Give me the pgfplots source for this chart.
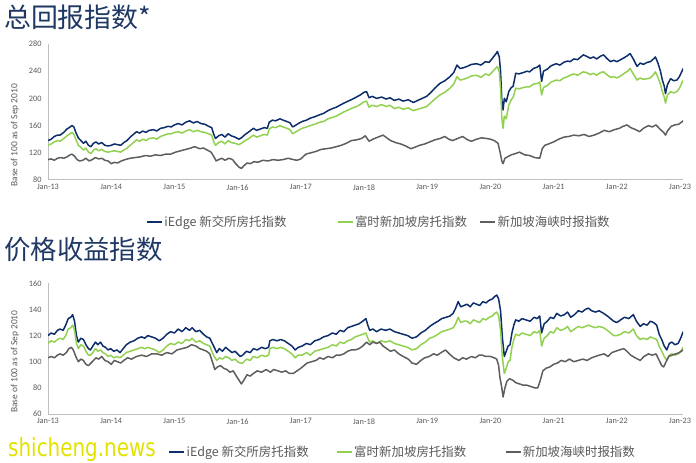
\documentclass[border=0pt]{standalone}
\usepackage{pgfplots}
\usepackage{pgfplotstable}
\pgfplotsset{compat=1.18}
\usepackage{fontspec}
\setmainfont{Carlito}
\newfontfamily\cjk{Noto Sans CJK SC}
\newfontfamily\wm{DejaVu Sans}
\definecolor{cblue}{HTML}{0E2D6B}
\definecolor{cgreen}{HTML}{92D050}
\definecolor{cgray}{HTML}{5E5E5E}
\definecolor{caxis}{HTML}{BFBFBF}
\definecolor{clabel}{HTML}{595959}
\definecolor{ctitle}{HTML}{1F3864}
\definecolor{cwm}{HTML}{E2E200}

\pgfplotstableread{
x y
2013.00 138
2013.05 140
2013.10 144
2013.15 146
2013.19 146
2013.25 150
2013.30 155
2013.35 158
2013.38 160
2013.41 158
2013.44 150
2013.48 142
2013.52 138
2013.56 134
2013.60 137
2013.64 131
2013.68 129
2013.72 134
2013.76 136
2013.80 133
2013.85 135
2013.90 131
2013.95 130
2014.00 131
2014.05 133
2014.10 132
2014.15 131
2014.20 135
2014.25 138
2014.30 143
2014.35 147
2014.40 151
2014.45 149
2014.50 152
2014.55 150
2014.60 153
2014.67 154
2014.72 152
2014.78 156
2014.84 157
2014.90 159
2014.95 158
2015.00 161
2015.06 163
2015.12 161
2015.18 165
2015.24 167
2015.30 164
2015.36 166
2015.42 163
2015.48 162
2015.54 159
2015.59 157
2015.62 148
2015.65 141
2015.70 145
2015.75 147
2015.80 143
2015.85 148
2015.90 145
2015.96 143
2016.02 140
2016.06 142
2016.12 147
2016.18 151
2016.25 156
2016.30 153
2016.36 155
2016.42 157
2016.47 156
2016.50 165
2016.55 168
2016.60 167
2016.67 170
2016.72 168
2016.78 166
2016.83 164
2016.87 158
2016.91 160
2016.96 163
2017.02 166
2017.09 168
2017.15 171
2017.22 173
2017.30 176
2017.36 178
2017.43 182
2017.50 185
2017.56 187
2017.62 190
2017.68 193
2017.75 196
2017.82 199
2017.88 202
2017.94 205
2018.00 209
2018.04 210
2018.08 201
2018.13 203
2018.20 200
2018.28 202
2018.35 199
2018.41 201
2018.48 197
2018.55 199
2018.62 196
2018.70 198
2018.78 194
2018.85 197
2018.92 200
2018.99 203
2019.05 208
2019.12 215
2019.20 222
2019.28 226
2019.36 232
2019.42 238
2019.47 249
2019.52 244
2019.57 245
2019.63 247
2019.70 250
2019.78 251
2019.85 249
2019.92 254
2019.98 253
2020.04 260
2020.09 266
2020.11 269
2020.14 261
2020.16 240
2020.18 198
2020.20 183
2020.22 200
2020.25 195
2020.29 210
2020.33 216
2020.36 218
2020.40 237
2020.45 236
2020.52 238
2020.58 240
2020.62 239
2020.68 244
2020.74 246
2020.78 249
2020.81 225
2020.84 240
2020.90 243
2020.96 248
2021.04 251
2021.10 249
2021.16 253
2021.22 255
2021.26 254
2021.32 258
2021.38 257
2021.43 261
2021.47 264
2021.52 262
2021.58 259
2021.63 261
2021.68 258
2021.74 262
2021.79 264
2021.84 259
2021.90 254
2021.95 256
2022.00 254
2022.06 257
2022.12 260
2022.17 263
2022.21 266
2022.26 258
2022.32 247
2022.37 252
2022.42 250
2022.48 253
2022.53 254
2022.58 258
2022.61 261
2022.65 252
2022.69 240
2022.72 227
2022.75 218
2022.77 207
2022.80 220
2022.85 229
2022.90 226
2022.95 227
2022.99 232
2023.02 238
2023.05 244
}\topblue

\pgfplotstableread{
x y
2013.00 131
2013.05 133
2013.10 136
2013.15 138
2013.19 137
2013.25 141
2013.30 145
2013.35 148
2013.38 150
2013.41 147
2013.44 140
2013.48 131
2013.52 128
2013.56 124
2013.60 127
2013.64 121
2013.68 119
2013.72 124
2013.76 126
2013.80 123
2013.85 125
2013.90 122
2013.95 121
2014.00 122
2014.05 123
2014.10 122
2014.15 121
2014.20 124
2014.25 127
2014.30 131
2014.35 135
2014.40 139
2014.45 137
2014.50 140
2014.55 138
2014.60 141
2014.67 142
2014.72 140
2014.78 144
2014.84 146
2014.90 148
2014.95 148
2015.00 150
2015.06 151
2015.12 149
2015.18 152
2015.24 154
2015.30 151
2015.36 153
2015.42 151
2015.48 150
2015.54 148
2015.59 146
2015.62 137
2015.65 131
2015.70 135
2015.75 137
2015.80 133
2015.85 138
2015.90 135
2015.96 134
2016.02 132
2016.06 134
2016.12 138
2016.18 141
2016.25 146
2016.30 143
2016.36 145
2016.42 147
2016.47 146
2016.50 155
2016.55 158
2016.60 157
2016.67 160
2016.72 158
2016.78 156
2016.83 154
2016.87 148
2016.91 150
2016.96 153
2017.02 156
2017.09 158
2017.15 160
2017.22 162
2017.30 165
2017.36 166
2017.43 170
2017.50 172
2017.56 174
2017.62 177
2017.68 180
2017.75 183
2017.82 186
2017.88 188
2017.94 191
2018.00 195
2018.04 196
2018.08 187
2018.13 190
2018.20 188
2018.28 191
2018.35 188
2018.41 190
2018.48 185
2018.55 187
2018.62 184
2018.70 186
2018.78 182
2018.85 184
2018.92 186
2018.99 188
2019.05 193
2019.12 199
2019.20 205
2019.28 209
2019.36 215
2019.42 221
2019.47 232
2019.52 227
2019.57 228
2019.63 230
2019.70 233
2019.78 234
2019.85 231
2019.92 236
2019.98 234
2020.04 240
2020.09 245
2020.11 247
2020.14 239
2020.16 215
2020.18 172
2020.20 156
2020.22 174
2020.25 170
2020.29 190
2020.33 198
2020.36 202
2020.40 215
2020.45 214
2020.52 216
2020.58 217
2020.62 217
2020.68 221
2020.74 222
2020.78 224
2020.81 205
2020.84 216
2020.90 219
2020.96 224
2021.04 227
2021.10 226
2021.16 230
2021.22 232
2021.26 234
2021.32 236
2021.38 234
2021.43 237
2021.47 239
2021.52 238
2021.58 235
2021.63 237
2021.68 234
2021.74 238
2021.79 239
2021.84 235
2021.90 231
2021.95 232
2022.00 230
2022.06 233
2022.12 237
2022.17 240
2022.21 244
2022.26 236
2022.32 227
2022.37 230
2022.42 228
2022.48 229
2022.53 230
2022.58 235
2022.61 239
2022.65 231
2022.69 221
2022.72 210
2022.75 202
2022.77 193
2022.80 205
2022.85 210
2022.90 208
2022.95 210
2022.99 215
2023.02 221
2023.05 227
}\topgreen

\pgfplotstableread{
x y
2013.00 110
2013.05 111
2013.10 109
2013.15 112
2013.20 113
2013.25 112
2013.30 114
2013.35 117
2013.38 118
2013.42 115
2013.46 110
2013.50 108
2013.55 109
2013.60 112
2013.65 108
2013.70 110
2013.75 113
2013.80 111
2013.85 112
2013.90 109
2013.95 108
2014.00 104
2014.05 106
2014.10 105
2014.16 108
2014.22 110
2014.30 112
2014.38 113
2014.46 114
2014.54 116
2014.62 115
2014.70 117
2014.78 116
2014.86 118
2014.94 118
2015.02 121
2015.10 123
2015.18 125
2015.26 127
2015.32 129
2015.40 126
2015.46 127
2015.52 124
2015.58 121
2015.62 115
2015.66 108
2015.70 110
2015.75 112
2015.80 109
2015.86 112
2015.92 110
2015.97 104
2016.02 99
2016.06 97
2016.10 101
2016.15 105
2016.20 104
2016.26 107
2016.32 106
2016.40 109
2016.48 108
2016.56 110
2016.64 109
2016.72 110
2016.80 112
2016.88 110
2016.94 109
2017.00 111
2017.08 118
2017.16 120
2017.24 122
2017.32 125
2017.40 126
2017.48 127
2017.56 129
2017.64 131
2017.72 134
2017.80 138
2017.88 139
2017.96 141
2018.02 145
2018.08 137
2018.14 140
2018.22 143
2018.30 146
2018.36 142
2018.42 138
2018.50 135
2018.58 133
2018.66 130
2018.74 126
2018.80 128
2018.88 131
2018.96 133
2019.04 136
2019.12 139
2019.20 141
2019.28 144
2019.34 140
2019.40 138
2019.48 141
2019.56 144
2019.64 139
2019.70 137
2019.78 140
2019.86 142
2019.94 141
2020.00 140
2020.06 138
2020.12 134
2020.15 122
2020.18 108
2020.20 104
2020.23 112
2020.27 114
2020.33 117
2020.40 119
2020.46 121
2020.54 117
2020.62 116
2020.70 113
2020.78 112
2020.82 126
2020.86 131
2020.92 133
2021.00 136
2021.08 140
2021.16 143
2021.24 144
2021.32 146
2021.40 145
2021.48 147
2021.56 144
2021.64 146
2021.72 149
2021.80 153
2021.88 151
2021.96 154
2022.04 156
2022.10 159
2022.16 161
2022.22 157
2022.30 154
2022.36 151
2022.42 156
2022.50 160
2022.56 158
2022.62 161
2022.68 155
2022.74 150
2022.77 146
2022.80 152
2022.86 159
2022.92 161
2022.98 162
2023.05 167
}\topgray

\pgfplotstableread{
x y
2013.00 120
2013.05 122
2013.10 121
2013.15 124
2013.19 125
2013.24 124
2013.28 128
2013.32 133
2013.36 134
2013.39 136
2013.42 131
2013.45 120
2013.48 115
2013.52 118
2013.56 117
2013.60 113
2013.64 110
2013.67 109
2013.71 112
2013.75 115
2013.79 113
2013.83 115
2013.87 112
2013.91 111
2013.95 109
2013.99 110
2014.04 108
2014.09 109
2014.14 107
2014.19 110
2014.24 113
2014.30 115
2014.36 116
2014.42 118
2014.48 119
2014.53 118
2014.58 120
2014.64 119
2014.70 118
2014.76 116
2014.82 118
2014.88 121
2014.94 123
2015.00 122
2015.06 125
2015.12 123
2015.18 126
2015.24 124
2015.28 126
2015.34 123
2015.40 124
2015.46 121
2015.51 119
2015.56 118
2015.60 114
2015.63 111
2015.67 107
2015.71 110
2015.76 108
2015.81 111
2015.86 109
2015.91 107
2015.96 108
2016.00 106
2016.04 104
2016.08 105
2016.14 108
2016.20 107
2016.25 110
2016.31 109
2016.38 111
2016.44 110
2016.49 111
2016.51 116
2016.56 117
2016.62 116
2016.68 117
2016.74 116
2016.80 114
2016.86 112
2016.91 109
2016.96 111
2017.02 112
2017.09 114
2017.15 113
2017.22 116
2017.29 117
2017.36 119
2017.43 120
2017.50 122
2017.56 121
2017.62 124
2017.68 123
2017.74 126
2017.80 127
2017.86 128
2017.92 129
2017.98 131
2018.03 133
2018.06 128
2018.09 124
2018.14 125
2018.20 123
2018.27 125
2018.34 124
2018.41 125
2018.48 123
2018.55 122
2018.62 121
2018.69 120
2018.76 118
2018.83 119
2018.90 122
2018.97 124
2019.04 127
2019.10 129
2019.17 131
2019.23 133
2019.30 134
2019.36 135
2019.41 137
2019.45 141
2019.49 146
2019.53 142
2019.58 143
2019.63 144
2019.68 142
2019.73 145
2019.78 144
2019.83 143
2019.88 146
2019.93 145
2019.98 147
2020.03 148
2020.07 150
2020.10 151
2020.13 148
2020.16 139
2020.19 118
2020.22 104
2020.25 108
2020.28 112
2020.31 113
2020.34 122
2020.37 128
2020.40 132
2020.45 131
2020.50 133
2020.56 132
2020.63 131
2020.69 134
2020.74 133
2020.78 135
2020.81 122
2020.85 129
2020.90 131
2020.95 134
2021.00 133
2021.05 137
2021.11 135
2021.17 136
2021.22 138
2021.27 134
2021.33 136
2021.39 139
2021.45 138
2021.50 140
2021.55 141
2021.60 139
2021.66 138
2021.72 139
2021.79 137
2021.85 135
2021.90 133
2021.95 131
2022.00 130
2022.06 132
2022.12 134
2022.19 133
2022.26 136
2022.31 131
2022.37 127
2022.42 129
2022.48 128
2022.53 131
2022.58 130
2022.63 128
2022.67 121
2022.71 117
2022.75 112
2022.79 109
2022.83 114
2022.87 115
2022.92 113
2022.97 114
2023.01 118
2023.05 123
}\botblue

\pgfplotstableread{
x y
2013.00 114
2013.05 116
2013.10 115
2013.15 117
2013.19 118
2013.24 117
2013.28 120
2013.32 125
2013.36 126
2013.39 128
2013.42 124
2013.45 114
2013.48 110
2013.52 113
2013.56 112
2013.60 108
2013.64 105
2013.67 105
2013.71 107
2013.75 110
2013.79 108
2013.83 109
2013.87 107
2013.91 106
2013.95 104
2013.99 105
2014.04 103
2014.09 104
2014.14 103
2014.19 105
2014.24 107
2014.30 108
2014.36 109
2014.42 110
2014.48 111
2014.53 110
2014.58 111
2014.64 110
2014.70 109
2014.76 107
2014.82 109
2014.88 112
2014.94 114
2015.00 113
2015.06 115
2015.12 114
2015.18 117
2015.24 116
2015.28 118
2015.34 115
2015.40 116
2015.46 114
2015.51 113
2015.56 112
2015.60 107
2015.63 104
2015.67 101
2015.71 103
2015.76 102
2015.81 104
2015.86 103
2015.91 101
2015.96 102
2016.00 100
2016.04 99
2016.08 99
2016.14 102
2016.20 101
2016.25 104
2016.31 103
2016.38 105
2016.44 104
2016.49 105
2016.51 110
2016.56 111
2016.62 110
2016.68 111
2016.74 110
2016.80 108
2016.86 106
2016.91 103
2016.96 105
2017.02 105
2017.09 107
2017.15 105
2017.22 108
2017.29 109
2017.36 110
2017.43 111
2017.50 113
2017.56 112
2017.62 115
2017.68 114
2017.74 116
2017.80 117
2017.86 119
2017.92 120
2017.98 121
2018.03 122
2018.06 118
2018.09 115
2018.14 116
2018.20 114
2018.27 116
2018.34 115
2018.41 116
2018.48 114
2018.55 113
2018.62 112
2018.69 111
2018.76 109
2018.83 110
2018.90 113
2018.97 115
2019.04 118
2019.10 119
2019.17 121
2019.23 123
2019.30 124
2019.36 125
2019.41 126
2019.45 129
2019.49 134
2019.53 130
2019.58 131
2019.63 131
2019.68 129
2019.73 132
2019.78 131
2019.83 130
2019.88 133
2019.93 132
2019.98 134
2020.03 135
2020.07 137
2020.10 138
2020.13 135
2020.16 124
2020.19 103
2020.22 91
2020.25 95
2020.28 100
2020.31 101
2020.34 111
2020.37 117
2020.40 121
2020.45 120
2020.50 122
2020.56 121
2020.63 120
2020.69 123
2020.74 122
2020.78 124
2020.81 112
2020.85 118
2020.90 120
2020.95 123
2021.00 122
2021.05 126
2021.11 124
2021.17 125
2021.22 127
2021.27 123
2021.33 125
2021.39 127
2021.45 126
2021.50 127
2021.55 128
2021.60 127
2021.66 126
2021.72 127
2021.79 126
2021.85 124
2021.90 122
2021.95 120
2022.00 120
2022.06 121
2022.12 123
2022.19 122
2022.26 125
2022.31 120
2022.37 117
2022.42 118
2022.48 117
2022.53 119
2022.58 118
2022.63 117
2022.67 112
2022.71 108
2022.75 104
2022.79 101
2022.83 105
2022.87 106
2022.92 105
2022.97 106
2023.01 108
2023.05 111
}\botgreen

\pgfplotstableread{
x y
2013.00 103
2013.05 104
2013.10 103
2013.15 105
2013.19 106
2013.24 105
2013.29 107
2013.33 110
2013.37 111
2013.40 109
2013.44 104
2013.48 100
2013.52 102
2013.56 101
2013.60 98
2013.64 97
2013.68 99
2013.72 101
2013.76 103
2013.80 102
2013.85 104
2013.90 101
2013.95 100
2014.00 98
2014.05 101
2014.10 100
2014.15 99
2014.20 101
2014.26 103
2014.32 102
2014.40 104
2014.48 105
2014.56 104
2014.64 106
2014.72 106
2014.80 105
2014.88 107
2014.96 106
2015.04 109
2015.12 110
2015.20 111
2015.27 113
2015.34 112
2015.40 110
2015.46 109
2015.51 108
2015.56 106
2015.60 100
2015.64 94
2015.68 96
2015.73 97
2015.78 95
2015.83 94
2015.88 92
2015.93 93
2015.98 89
2016.02 86
2016.06 83
2016.10 86
2016.15 90
2016.20 89
2016.25 91
2016.31 93
2016.38 92
2016.45 94
2016.52 92
2016.57 94
2016.64 93
2016.70 92
2016.76 93
2016.82 91
2016.88 91
2016.94 93
2017.00 95
2017.05 97
2017.10 99
2017.17 100
2017.24 101
2017.30 103
2017.36 102
2017.43 104
2017.50 103
2017.56 105
2017.62 105
2017.68 106
2017.74 108
2017.80 109
2017.86 109
2017.92 110
2017.98 112
2018.04 115
2018.09 113
2018.14 115
2018.20 114
2018.25 115
2018.30 112
2018.36 110
2018.42 108
2018.48 109
2018.55 106
2018.62 104
2018.70 102
2018.76 99
2018.83 98
2018.90 101
2018.96 103
2019.03 104
2019.10 106
2019.16 105
2019.22 107
2019.29 109
2019.35 106
2019.42 103
2019.50 101
2019.56 103
2019.62 102
2019.70 104
2019.76 103
2019.82 105
2019.87 105
2019.93 104
2020.00 104
2020.06 103
2020.10 102
2020.13 97
2020.15 88
2020.18 80
2020.20 73
2020.23 80
2020.26 85
2020.30 87
2020.35 86
2020.40 84
2020.46 83
2020.52 82
2020.58 82
2020.64 81
2020.70 80
2020.75 80
2020.79 86
2020.83 93
2020.88 95
2020.94 96
2021.00 98
2021.06 99
2021.12 101
2021.18 100
2021.25 102
2021.32 100
2021.39 101
2021.46 102
2021.53 101
2021.60 103
2021.66 104
2021.72 105
2021.80 106
2021.86 104
2021.92 107
2021.98 108
2022.04 109
2022.11 110
2022.16 108
2022.22 105
2022.29 103
2022.37 101
2022.43 104
2022.50 106
2022.56 105
2022.62 106
2022.67 101
2022.71 97
2022.74 96
2022.78 100
2022.82 104
2022.87 105
2022.93 106
2022.99 107
2023.05 109
}\botgray

\pgfplotsset{
  panel/.style={
    scale only axis,
    width=635.2bp,
    xmin=2013, xmax=2023.05,
    xtick={2013,2014,2015,2016,2017,2018,2019,2020,2021,2022,2023},
    xticklabels={Jan-13,Jan-14,Jan-15,Jan-16,Jan-17,Jan-18,Jan-19,Jan-20,Jan-21,Jan-22,Jan-23},
    axis lines*=left,
    axis line style={-, draw=caxis, line width=1bp},
    major tick length=0pt,
    /pgf/number format/assume math mode=true,
    tick label style={font=\fontsize{8.3}{9}\selectfont, text=clabel},
    yticklabel style={xshift=-3bp},
    xticklabel style={yshift=-1bp},
    ylabel={Base of 100 as of Sep 2010},
    legend columns=3,
    legend image code/.code={\draw[##1, line width=1.5bp] (0bp,0bp) -- (15bp,0bp);},
    legend style={draw=none, fill=none, font=\cjk\fontsize{12.5}{14}\selectfont, text=clabel, anchor=west,
      nodes={inner sep=1.5bp}},
    every axis plot/.append style={no markers, line width=1.5bp, line join=round},
  }
}

\begin{document}
\begin{tikzpicture}
\useasboundingbox (0bp,0bp) rectangle (696bp,463bp);
\node[anchor=west, inner sep=0, text=ctitle, font=\cjk\fontsize{27}{30}\selectfont] at (4bp,445.5bp) {总回报指数*};
\node[anchor=west, inner sep=0, text=ctitle, font=\cjk\fontsize{26.5}{30}\selectfont] at (4bp,213bp) {价格收益指数};

\begin{axis}[panel, at={(48bp,283bp)}, anchor=south west, height=136bp,
  ymin=80, ymax=280, ytick={80,120,160,200,240,280},
  every axis y label/.style={at={(axis description cs:-0.052,0.33)}, rotate=90, anchor=center, font=\fontsize{9.5}{11}\selectfont, text=clabel},
  legend style={at={(0.150,-0.309)}, /tikz/column 2/.style={column sep=49bp}, /tikz/column 4/.style={column sep=11bp}}]
\addplot[cblue] table {\topblue};
\addlegendentry{iEdge 新交所房托指数}
\addplot[cgreen] table {\topgreen};
\addlegendentry{富时新加坡房托指数}
\addplot[cgray] table {\topgray};
\addlegendentry{新加坡海峡时报指数}
\end{axis}

\begin{axis}[panel, at={(48bp,49bp)}, anchor=south west, height=130.7bp,
  ymin=60, ymax=160, ytick={60,80,100,120,140,160},
  every axis y label/.style={at={(axis description cs:-0.052,0.40)}, rotate=90, anchor=center, font=\fontsize{9.5}{11}\selectfont, text=clabel},
  legend style={at={(0.185,-0.291)}, /tikz/column 2/.style={column sep=26bp}, /tikz/column 4/.style={column sep=37bp}}]
\addplot[cblue] table {\botblue};
\addlegendentry{iEdge 新交所房托指数}
\addplot[cgreen] table {\botgreen};
\addlegendentry{富时新加坡房托指数}
\addplot[cgray] table {\botgray};
\addlegendentry{新加坡海峡时报指数}
\end{axis}

\node[anchor=south west, inner sep=0, text=cwm] at (8bp,1bp) {\scalebox{0.8}[1]{\wm\fontsize{25}{28}\selectfont shicheng.news}};
\end{tikzpicture}
\end{document}
